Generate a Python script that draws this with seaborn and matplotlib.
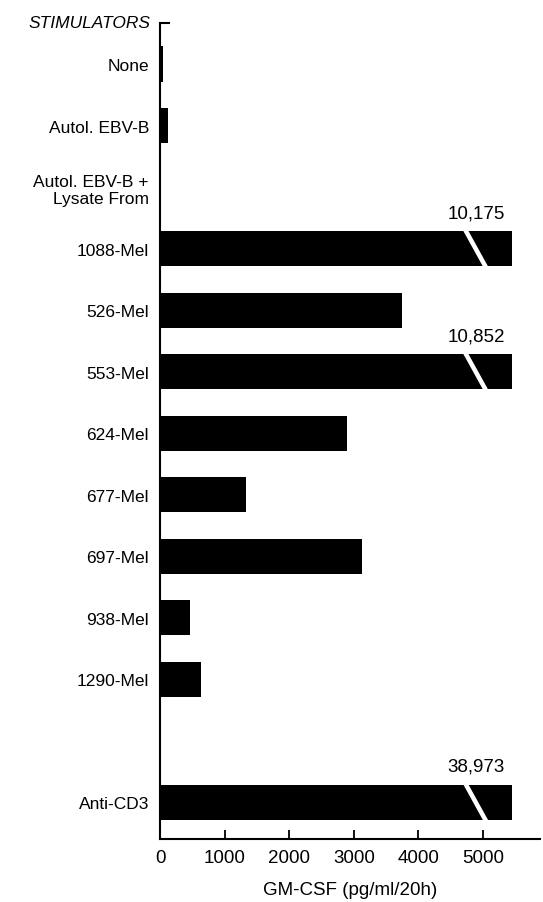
import matplotlib

matplotlib.use("Agg")
import matplotlib.pyplot as plt
import seaborn as sns
from matplotlib.patches import Polygon

# ---------------------------------------------------------------------------
# Data (GM-CSF release, pg/ml/20h); broken bars keep their true value apart
# ---------------------------------------------------------------------------
stimulators = [
    "None",
    "Autol. EBV-B",
    "Autol. EBV-B +\nLysate From",
    "1088-Mel",
    "526-Mel",
    "553-Mel",
    "624-Mel",
    "677-Mel",
    "697-Mel",
    "938-Mel",
    "1290-Mel",
    " ",
    "Anti-CD3",
]
gmcsf = [45, 125, 0, 10175, 3746, 10852, 2895, 1331, 3127, 464, 635, 0, 38973]
broken_labels = {"1088-Mel": "10,175", "553-Mel": "10,852", "Anti-CD3": "38,973"}

X_MAX = 5882
BREAK_SHOWN = 5449  # length drawn for off-scale bars
BAR_W = 0.57

shown = [BREAK_SHOWN if s in broken_labels else v for s, v in zip(stimulators, gmcsf)]

sns.set_style("ticks")
plt.rcParams["font.family"] = ["Liberation Sans", "DejaVu Sans"]
plt.rcParams.update({
    "text.color": "black",
    "axes.labelcolor": "black",
    "xtick.color": "black",
    "ytick.color": "black",
})

fig = plt.figure(figsize=(5.43, 9.03), dpi=100)
ax = fig.add_axes([160 / 543, 63 / 903, 380 / 543, 816 / 903])

sns.barplot(
    x=shown,
    y=stimulators,
    orient="h",
    color="black",
    width=BAR_W,
    linewidth=0,
    saturation=1,
    errorbar=None,
    ax=ax,
)

ax.set_xlim(0, X_MAX)
ax.set_ylim(12.6, -0.667)
ax.set_xticks([0, 1000, 2000, 3000, 4000, 5000])
ax.tick_params(axis="x", direction="in", length=6.5, width=1.3, labelsize=13.5, pad=7)
ax.tick_params(axis="y", length=0, labelsize=12.5, pad=8)
ax.set_ylabel("")
ax.set_xlabel("GM-CSF (pg/ml/20h)", fontsize=13.5, labelpad=11)
sns.despine(ax=ax, top=True, right=True)
for side in ("left", "bottom"):
    ax.spines[side].set_linewidth(1.5)
    ax.spines[side].set_color("black")

# small stub at the top of the axis + header
ax.plot([0, 0.025], [1, 1], transform=ax.transAxes, color="black", lw=1.5,
        clip_on=False, solid_capstyle="butt")
ax.text(-0.026, 1.0, "STIMULATORS", transform=ax.transAxes, ha="right",
        va="center", fontsize=12.5, style="italic")

# break marks and true values on the off-scale bars
for i, name in enumerate(stimulators):
    if name not in broken_labels:
        continue
    top, bot = i - BAR_W / 2, i + BAR_W / 2
    x_top, x_bot, w = 4690, 5000, 80
    ax.add_patch(Polygon([(x_top, top - 0.01), (x_top + w, top - 0.01),
                          (x_bot + w, bot + 0.01), (x_bot, bot + 0.01)],
                         closed=True, facecolor="white", edgecolor="none", zorder=5))
    ax.annotate(broken_labels[name], xy=(5340, top), xytext=(0, 7),
                textcoords="offset points", ha="right", va="bottom", fontsize=13.5)

fig.savefig("out.png", dpi=100)
